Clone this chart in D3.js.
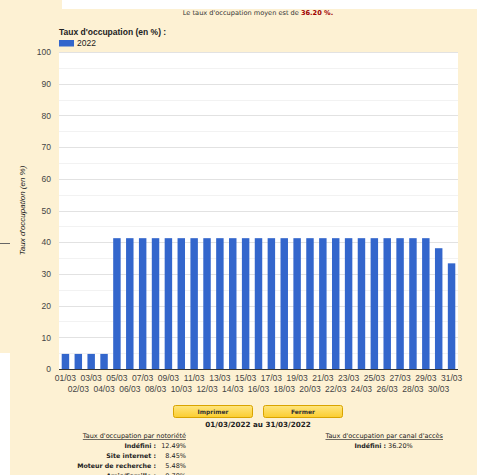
<!DOCTYPE html>
<html>
<head>
<meta charset="utf-8">
<script src="https://cdn.jsdelivr.net/npm/d3@7"></script>
<style>
  body { margin: 0; background: #fdf1d3; }
  svg { display: block; }
</style>
</head>
<body>
<svg id="chart" width="477" height="475"></svg>
<script>
'use strict';

// occupation for each day of March 2022 (%)
const days = d3.range(1, 32).map((d) => String(d).padStart(2, '0') + '/03');
const occupation = [
    4.76, 4.76, 4.76, 4.76,
    41.27, 41.27, 41.27, 41.27, 41.27, 41.27, 41.27, 41.27, 41.27, 41.27,
    41.27, 41.27, 41.27, 41.27, 41.27, 41.27, 41.27, 41.27, 41.27, 41.27,
    41.27, 41.27, 41.27, 41.27, 41.27,
    38.10, 33.33
];
const yTicks = d3.range(0, 101, 10);
const seriesName = '2022';

const notorieteLabels = ['Indéfini :', 'Site internet :', 'Moteur de recherche :', 'Amis/Famille :'];
const notorieteValues = ['12.49%', '8.45%', '5.48%', '0.78%'];
const canalLabels = ['Indéfini :'];
const canalValues = ['36.20%'];

const svg = d3.select('#chart');
const plot = {left: 59, right: 458, top: 52, bottom: 369};
const chartFont = '"Liberation Sans", Arial, sans-serif';
const pageFont = '"DejaVu Sans", Verdana, sans-serif';

// page pieces around the chart
svg.append('rect').attr('x', 62).attr('y', 0).attr('width', 415).attr('height', 9).attr('fill', '#fff');
svg.append('rect').attr('x', 0).attr('y', 353).attr('width', 10).attr('height', 122).attr('fill', '#fff');
svg.append('line').attr('x1', 0).attr('x2', 10).attr('y1', 243.5).attr('y2', 243.5)
    .attr('stroke', '#666').attr('stroke-width', 1);

// headline
const head = svg.append('text')
    .attr('x', 258).attr('y', 15)
    .attr('text-anchor', 'middle')
    .style('font-family', pageFont).style('font-size', '6.6px').attr('fill', '#333');
head.append('tspan').text("Le taux d'occupation moyen est de ");
head.append('tspan').attr('fill', '#a00000').style('font-weight', 'bold').text('36.20 %.');

// legend
svg.append('text').attr('x', 59).attr('y', 35)
    .style('font-family', chartFont).style('font-size', '8.5px').style('font-weight', 'bold')
    .attr('fill', '#222').text("Taux d'occupation (en %) :");
svg.append('rect').attr('x', 59).attr('y', 40).attr('width', 15).attr('height', 6.5).attr('fill', '#3366cc');
svg.append('text').attr('x', 77).attr('y', 46)
    .style('font-family', chartFont).style('font-size', '8.5px').attr('fill', '#222').text(seriesName);

// plot background
svg.append('rect')
    .attr('x', plot.left).attr('y', plot.top)
    .attr('width', plot.right - plot.left).attr('height', plot.bottom - plot.top)
    .attr('fill', '#fff');

const x = d3.scaleBand()
    .domain(days)
    .range([plot.left, plot.right])
    .paddingInner(0.42)
    .paddingOuter(0.21);

const y = d3.scaleLinear()
    .domain([0, 100])
    .range([plot.bottom, plot.top]);

// minor + major grid
svg.append('g').selectAll('line.minor')
    .data(d3.range(5, 100, 10))
    .enter().append('line')
    .attr('x1', plot.left).attr('x2', plot.right)
    .attr('y1', (d) => Math.round(y(d)) + 0.5).attr('y2', (d) => Math.round(y(d)) + 0.5)
    .attr('stroke', '#f2f2f2');

svg.append('g').selectAll('line.major')
    .data(yTicks.filter((d) => d > 0))
    .enter().append('line')
    .attr('x1', plot.left).attr('x2', plot.right)
    .attr('y1', (d) => Math.round(y(d)) + 0.5).attr('y2', (d) => Math.round(y(d)) + 0.5)
    .attr('stroke', '#e2e2e2');

// bars
svg.append('g').selectAll('rect')
    .data(occupation)
    .enter().append('rect')
    .attr('x', (d, i) => x(days[i]))
    .attr('width', x.bandwidth())
    .attr('y', (d) => y(d))
    .attr('height', (d) => y(0) - y(d))
    .attr('fill', '#3366cc');

// baseline
svg.append('line')
    .attr('x1', plot.left).attr('x2', plot.right)
    .attr('y1', plot.bottom + 0.5).attr('y2', plot.bottom + 0.5)
    .attr('stroke', '#333');

// y axis labels
const yAxis = svg.append('g')
    .attr('transform', `translate(${plot.left - 8},0)`)
    .call(d3.axisLeft(y).tickValues(yTicks).tickSize(0).tickPadding(0));
yAxis.select('.domain').remove();
yAxis.selectAll('text')
    .style('font-family', chartFont).style('font-size', '8.5px').attr('fill', '#444');

// x axis labels, staggered on two rows
const xAxis = svg.append('g')
    .attr('transform', `translate(0,${plot.bottom})`)
    .call(d3.axisBottom(x).tickSize(0).tickPadding(0));
xAxis.select('.domain').remove();
xAxis.selectAll('text')
    .attr('y', (d, i) => i % 2 === 0 ? 12 : 23)
    .attr('dy', 0)
    .style('font-family', chartFont).style('font-size', '8.5px').attr('fill', '#444');

// y axis title
svg.append('text')
    .attr('transform', `translate(25,${(plot.top + plot.bottom) / 2}) rotate(-90)`)
    .attr('text-anchor', 'middle')
    .style('font-family', chartFont).style('font-size', '8px').style('font-style', 'italic')
    .attr('fill', '#222').text("Taux d'occupation (en %)");

// buttons
const buttons = [{label: 'Imprimer', x: 173}, {label: 'Fermer', x: 263}];
const grad = svg.append('defs').append('linearGradient')
    .attr('id', 'btn').attr('x1', 0).attr('x2', 0).attr('y1', 0).attr('y2', 1);
grad.append('stop').attr('offset', '0%').attr('stop-color', '#ffe680');
grad.append('stop').attr('offset', '100%').attr('stop-color', '#fbcd2e');

const btn = svg.append('g').selectAll('g')
    .data(buttons).enter().append('g')
    .attr('transform', (d) => `translate(${d.x},405)`);
btn.append('rect').attr('x', 0.5).attr('y', 0.5).attr('width', 79).attr('height', 12).attr('rx', 2)
    .attr('fill', 'url(#btn)').attr('stroke', '#d9a400');
btn.append('text').attr('x', 40).attr('y', 9).attr('text-anchor', 'middle')
    .style('font-family', pageFont).style('font-size', '6px').style('font-weight', 'bold')
    .attr('fill', '#333').text((d) => d.label);

svg.append('text').attr('x', 258).attr('y', 427).attr('text-anchor', 'middle')
    .style('font-family', pageFont).style('font-size', '7.2px').style('font-weight', 'bold')
    .attr('fill', '#222').text('01/03/2022 au 31/03/2022');

// statistics tables
function table(title, titleX, labels, values, labelRight, valueX, valueAnchor) {
    svg.append('text').attr('x', titleX).attr('y', 438).attr('text-anchor', 'end')
        .style('font-family', pageFont).style('font-size', '6.5px').style('text-decoration', 'underline')
        .attr('fill', '#222').text(title);
    const rows = svg.append('g').selectAll('g').data(labels).enter().append('g')
        .attr('transform', (d, i) => `translate(0,${448 + i * 10})`);
    rows.append('text').attr('x', labelRight).attr('text-anchor', 'end')
        .style('font-family', pageFont).style('font-size', '6.3px').style('font-weight', 'bold')
        .attr('fill', '#222').text((d) => d);
    rows.append('text').attr('x', valueX).attr('text-anchor', valueAnchor)
        .style('font-family', pageFont).style('font-size', '6.5px')
        .attr('fill', '#222').text((d, i) => values[i]);
}

table("Taux d'occupation par notoriété", 186, notorieteLabels, notorieteValues, 156, 186, 'end');
table("Taux d'occupation par canal d'accès", 443, canalLabels, canalValues, 386, 388, 'start');
</script>
</body>
</html>
